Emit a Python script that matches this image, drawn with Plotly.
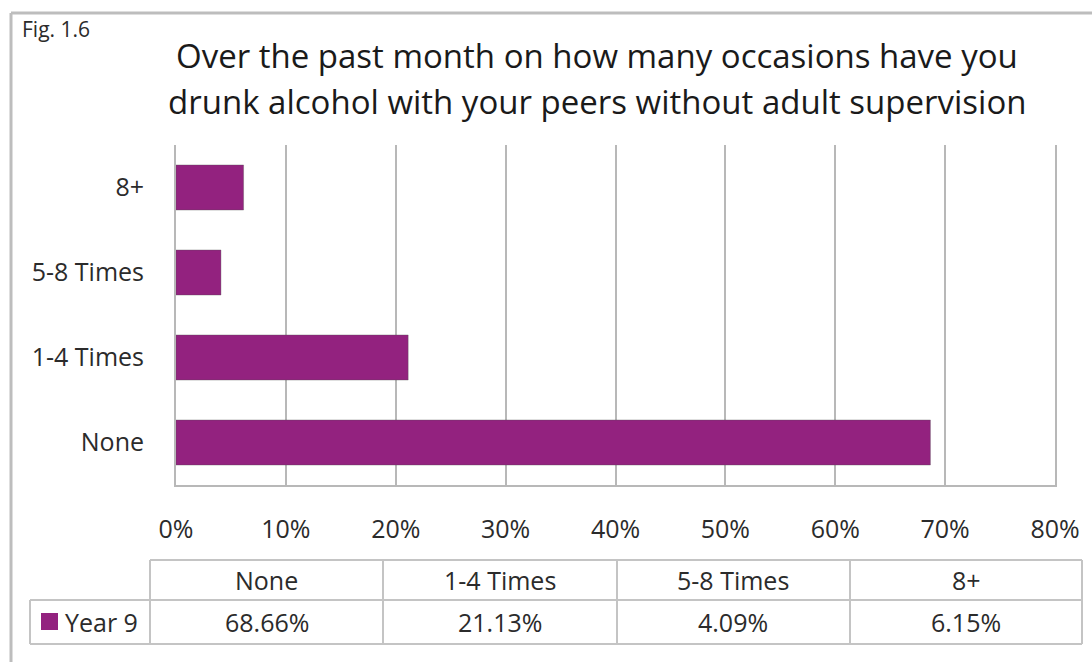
import plotly.graph_objects as go

# Survey responses (Year 9), share of pupils per category
categories = ["None", "1-4 Times", "5-8 Times", "8+"]
year9 = [68.66, 21.13, 4.09, 6.15]
series_name = "Year 9"
x_ticks = [0, 10, 20, 30, 40, 50, 60, 70, 80]
x_tick_labels = [f"{v}%" for v in x_ticks]
title_lines = [
    "Over the past month on how many occasions have you",
    "drunk alcohol with your peers without adult supervision",
]

W, H = 1092, 662
BAR = "#93227F"
GRID = "#B8B8B8"
TXT = "#2B2B2B"
FONT = "'Open Sans', 'Noto Sans', sans-serif"


def px(x):
    return x / W


def py(y):
    return 1 - y / H


fig = go.Figure()
fig.add_trace(go.Bar(
    x=year9,
    y=categories,
    orientation="h",
    width=0.53,
    name=series_name,
    marker=dict(color=BAR, line=dict(color="rgba(80,80,80,0.35)", width=1)),
    hoverinfo="x+y",
))

shapes = []
annotations = []

# outer frame (top and left edges visible)
shapes.append(dict(type="line", xref="paper", yref="paper",
                   x0=px(11), x1=px(1092), y0=py(13), y1=py(13),
                   line=dict(color="#BDBDBD", width=3)))
shapes.append(dict(type="line", xref="paper", yref="paper",
                   x0=px(11), x1=px(11), y0=py(13), y1=py(662),
                   line=dict(color="#BDBDBD", width=3)))

# data table under the chart
col_edges = [150, 383, 617, 850, 1082]
row_top, row_mid, row_bot = 560, 600, 644
legend_left = 30
tline = dict(color="#C4C4C4", width=2)
shapes.append(dict(type="line", xref="paper", yref="paper",
                   x0=px(col_edges[0]), x1=px(col_edges[-1]), y0=py(row_top), y1=py(row_top), line=tline))
shapes.append(dict(type="line", xref="paper", yref="paper",
                   x0=px(legend_left), x1=px(col_edges[-1]), y0=py(row_mid), y1=py(row_mid), line=tline))
shapes.append(dict(type="line", xref="paper", yref="paper",
                   x0=px(legend_left), x1=px(col_edges[-1]), y0=py(row_bot), y1=py(row_bot), line=tline))
shapes.append(dict(type="line", xref="paper", yref="paper",
                   x0=px(legend_left), x1=px(legend_left), y0=py(row_mid), y1=py(row_bot), line=tline))
for xe in col_edges:
    shapes.append(dict(type="line", xref="paper", yref="paper",
                       x0=px(xe), x1=px(xe), y0=py(row_top), y1=py(row_bot), line=tline))

for i, (cat, val) in enumerate(zip(categories, year9)):
    cx = (col_edges[i] + col_edges[i + 1]) / 2
    annotations.append(dict(xref="paper", yref="paper", x=px(cx), y=py((row_top + row_mid) / 2),
                            text=cat, showarrow=False, xanchor="center", yanchor="middle",
                            font=dict(size=25, color=TXT, family=FONT)))
    annotations.append(dict(xref="paper", yref="paper", x=px(cx), y=py((row_mid + row_bot) / 2),
                            text=f"{val:.2f}%", showarrow=False, xanchor="center", yanchor="middle",
                            font=dict(size=25, color=TXT, family=FONT)))

# legend key inside the table
shapes.append(dict(type="rect", xref="paper", yref="paper",
                   x0=px(41), x1=px(58), y0=py(613), y1=py(630),
                   fillcolor=BAR, line=dict(width=0)))
annotations.append(dict(xref="paper", yref="paper", x=px(63), y=py(622),
                        text=series_name, showarrow=False, xanchor="left", yanchor="middle",
                        font=dict(size=25, color=TXT, family=FONT)))

# figure number
annotations.append(dict(xref="paper", yref="paper", x=px(20), y=py(29),
                        text="Fig. 1.6", showarrow=False, xanchor="left", yanchor="middle",
                        font=dict(size=21, color=TXT, family=FONT)))

# two-line chart title
for line_text, yc in zip(title_lines, [55, 102]):
    annotations.append(dict(xref="paper", yref="paper", x=px(597), y=py(yc),
                            text=line_text, showarrow=False, xanchor="center", yanchor="middle",
                            font=dict(size=33, color="#1A1A1A", family=FONT)))

fig.update_layout(
    width=W, height=H,
    margin=dict(l=0, r=0, t=0, b=0),
    paper_bgcolor="white",
    plot_bgcolor="white",
    showlegend=False,
    xaxis=dict(
        domain=[px(176), px(1055)],
        range=[0, 80],
        tickmode="array", tickvals=x_ticks, ticktext=x_tick_labels,
        showgrid=True, gridcolor=GRID, gridwidth=2,
        zeroline=False,
        showline=True, linecolor=GRID, linewidth=2,
        ticks="", ticklabelstandoff=21,
        tickfont=dict(size=25, color=TXT, family=FONT),
        automargin=False,
        fixedrange=True,
    ),
    yaxis=dict(
        domain=[py(485), py(145)],
        categoryorder="array", categoryarray=categories,
        showgrid=False, zeroline=False,
        showline=True, linecolor=GRID, linewidth=2, mirror=True,
        ticks="", ticklabelstandoff=25,
        tickfont=dict(size=25, color=TXT, family=FONT),
        automargin=False,
        fixedrange=True,
    ),
    shapes=shapes,
    annotations=annotations,
)

fig.write_html("out.html")
